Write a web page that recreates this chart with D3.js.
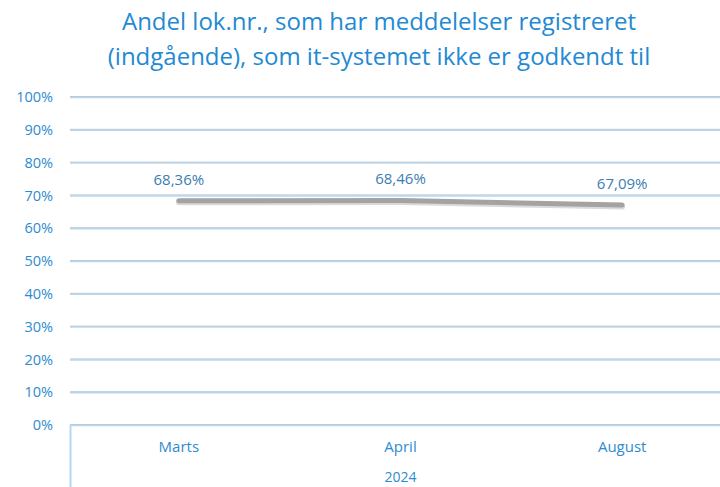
<!DOCTYPE html>
<html>
<head>
<meta charset="utf-8">
<script src="https://cdn.jsdelivr.net/npm/d3@7"></script>
<style>
  body { margin: 0; background: #fff; }
  svg { display: block; }
  text { font-family: "Open Sans", Lato, sans-serif; }
</style>
</head>
<body>
<script>
// Chart data
const titleLines = ["Andel lok.nr., som har meddelelser registreret", "(indgående), som it-systemet ikke er godkendt til"];
const categories = ["Marts", "April", "August"];
const groupLabel = "2024";
const values = [0.6836, 0.6846, 0.6709];
const valueLabels = ["68,36%", "68,46%", "67,09%"];
const yTicks = [0, 0.1, 0.2, 0.3, 0.4, 0.5, 0.6, 0.7, 0.8, 0.9, 1.0];

const width = 720;
const height = 487;
const margin = { top: 97, right: -13, bottom: 62, left: 68 };

const svg = d3.select("body")
              .append("svg")
              .attr("width", width)
              .attr("height", height);

// Title
svg.append("text")
   .attr("x", 379)
   .attr("y", 30)
   .attr("text-anchor", "middle")
   .attr("fill", "#2389d3")
   .style("font-size", "24px")
   .selectAll("tspan")
   .data(titleLines)
   .enter().append("tspan")
   .attr("x", 379)
   .attr("dy", (d, i) => i === 0 ? 0 : 35)
   .text(d => d);

const x = d3.scaleBand()
            .domain(categories)
            .range([margin.left, width - margin.right]);

const y = d3.scaleLinear()
            .domain([0, 1])
            .range([height - margin.bottom, margin.top]);

// Gridlines (double line look: grey over light blue)
const grid = svg.append("g");
grid.selectAll("line.blue")
    .data(yTicks)
    .enter().append("line")
    .attr("class", "blue")
    .attr("x1", margin.left + 2)
    .attr("x2", width)
    .attr("y1", d => y(d) + 0.5)
    .attr("y2", d => y(d) + 0.5)
    .attr("stroke", "#b5d8f2")
    .attr("stroke-width", 1.5);
grid.selectAll("line.grey")
    .data(yTicks)
    .enter().append("line")
    .attr("class", "grey")
    .attr("x1", margin.left + 2)
    .attr("x2", width)
    .attr("y1", d => y(d) - 0.5)
    .attr("y2", d => y(d) - 0.5)
    .attr("stroke", "#c0c8d0")
    .attr("stroke-width", 1);

// Vertical separator of the category axis
svg.append("line")
   .attr("x1", margin.left + 2.5)
   .attr("x2", margin.left + 2.5)
   .attr("y1", y(0))
   .attr("y2", height)
   .attr("stroke", "#b5d8f2")
   .attr("stroke-width", 2);

// Y axis labels
const yAxis = d3.axisLeft(y)
                .tickValues(yTicks)
                .tickSize(0)
                .tickPadding(0)
                .tickFormat(d3.format(".0%"));
const yg = svg.append("g")
              .attr("transform", `translate(${margin.left - 15},0)`)
              .call(yAxis);
yg.select(".domain").remove();
yg.selectAll("text")
  .attr("fill", "#2e8bd0")
  .style("font-size", "14.5px");

// X axis labels
const xAxis = d3.axisBottom(x).tickSize(0).tickPadding(0);
const xg = svg.append("g")
              .attr("transform", `translate(0,${y(0) + 16})`)
              .call(xAxis);
xg.select(".domain").remove();
xg.selectAll("text")
  .attr("fill", "#2e8bd0")
  .style("font-size", "15px");

// Group label at the bottom edge
svg.append("text")
   .attr("x", x("April") + x.bandwidth() / 2)
   .attr("y", height - 5)
   .attr("text-anchor", "middle")
   .attr("fill", "#2e8bd0")
   .style("font-size", "14px")
   .text(groupLabel);

// Line with soft shadow
const line = d3.line()
               .x((d, i) => x(categories[i]) + x.bandwidth() / 2)
               .y(d => y(d));

svg.append("path")
   .datum(values)
   .attr("d", line)
   .attr("fill", "none")
   .attr("stroke", "#dadada")
   .attr("stroke-width", 6)
   .attr("stroke-linecap", "round")
   .attr("transform", "translate(0,1.5)");

svg.append("path")
   .datum(values)
   .attr("d", line)
   .attr("fill", "none")
   .attr("stroke", "#a3a3a3")
   .attr("stroke-width", 5)
   .attr("stroke-linecap", "round");

// Data labels
svg.append("g")
   .selectAll("text")
   .data(values)
   .enter().append("text")
   .attr("x", (d, i) => x(categories[i]) + x.bandwidth() / 2)
   .attr("y", d => y(d) - 16)
   .attr("text-anchor", "middle")
   .attr("fill", "#3b7db4")
   .style("font-size", "15px")
   .text((d, i) => valueLabels[i]);
</script>
</body>
</html>
